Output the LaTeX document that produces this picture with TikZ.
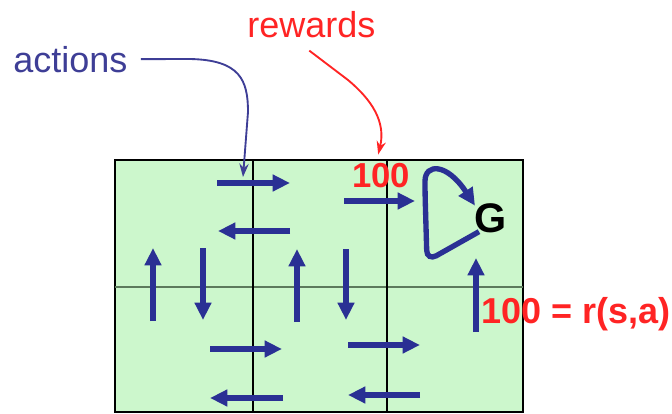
\documentclass[tikz,border=0pt]{standalone}
\usepackage{fontspec}
\setmainfont{Liberation Sans}
\usetikzlibrary{arrows.meta}

\definecolor{moveblue}{RGB}{42,48,148}
\definecolor{labelblue}{RGB}{62,62,150}
\definecolor{rewardred}{RGB}{255,36,36}
\definecolor{cellgreen}{RGB}{204,247,204}
\definecolor{midline}{RGB}{92,122,92}

\tikzset{
  move/.style={moveblue, line width=4pt, -{Triangle[length=13pt, width=12pt]}},
  gridline/.style={black, line width=1.1pt},
  bigtext/.style={inner sep=0pt, font=\fontsize{27}{30}\selectfont},
  pointer/.style={line width=1.4pt, -{Stealth[length=10pt, width=7pt]}}
}

\begin{document}
\begin{tikzpicture}[x=0.75pt, y=-0.75pt]
    \useasboundingbox (0,0) rectangle (672,414);

    % Draw the green 2x3 state grid
    \draw[gridline, fill=cellgreen] (115,160) rectangle (523,412);
    \draw[midline, line width=1.6pt] (115,287) -- (523,287);
    \draw[gridline] (253,160) -- (253,412);
    \draw[gridline] (387,160) -- (387,412);

    % Horizontal moves between the cells
    \foreach \xa/\xb/\y in {217/290/183, 290/218/231, 344/415/201,
                            210/282/349, 348/420/345, 283/210/398, 420/348/395} {
      \draw[move] (\xa,\y) -- (\xb,\y);
    }
    % Vertical moves between the cells
    \foreach \x/\ya/\yb in {153/321/248, 203/248/320, 297/322/249,
                            346/249/320, 476/332/258} {
      \draw[move] (\x,\ya) -- (\x,\yb);
    }

    % Goal state and its self loop
    \node[bigtext, font=\fontsize{31}{34}\selectfont\bfseries, anchor=base west] (goal) at (474,232) {G};
    \draw[move, rounded corners=8pt] ([shift={(5,-1)}]goal.south west) -- (427,261) -- (425,192)
      [sharp corners] .. controls (425,163) and (447,163) .. ([shift={(1,-27)}]goal.south west);

    % Reward labels
    \node[bigtext, rewardred, font=\fontsize{26}{30}\selectfont\bfseries, anchor=base west] (toprew) at (352,187) {100};
    \node[bigtext, rewardred, font=\fontsize{27}{30}\selectfont\bfseries, anchor=base west] (rsa) at (481,323) {100 = r(s,a)};

    % Captions with their pointers
    \node[bigtext, labelblue, anchor=base west] (actions) at (13,72) {actions};
    \node[bigtext, rewardred, anchor=base west] (rewards) at (247,37) {rewards};
    \coordinate (acttip) at (243,177);

    \draw[pointer, labelblue] ([xshift=10]actions.east) -- (190,59)
      .. controls (240,60) and (248,80) .. (248,112) -- (acttip);
    \draw[pointer, rewardred] ([shift={(-2,13)}]rewards.south) -- (348,80)
      .. controls (372,100) and (386,122) .. ([shift={(-3,-8)}]toprew.north);
\end{tikzpicture}
\end{document}
